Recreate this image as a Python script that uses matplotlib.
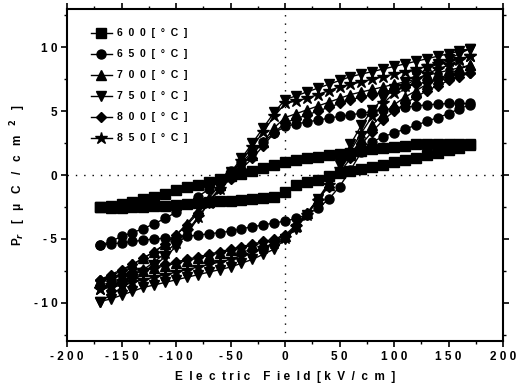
import numpy as np
import matplotlib
matplotlib.use("Agg")
import matplotlib.pyplot as plt
from matplotlib.ticker import MultipleLocator, FuncFormatter

# Electric field grids (kV/cm)
E_up = [170, 160, 150, 140, 130, 120, 110, 100, 90, 80, 70, 60, 50, 40, 30, 20, 10, 0,
        -10, -20, -30, -40, -50, -60, -70, -80, -90, -100, -110, -120, -130, -140, -150, -160, -170]
E_down = E_up[::-1]

labels = ["6  0  0  [  °  C  ]", "6  5  0  [  °  C  ]", "7  0  0  [  °  C  ]",
          "7  5  0  [  °  C  ]", "8  0  0  [  °  C  ]", "8  5  0  [  °  C  ]"]
markers = ["s", "o", "^", "v", "D", "*"]

# upper branches (E from +170 to -170)
P600_up = [2.4, 2.45, 2.45, 2.45, 2.45, 2.4, 2.3, 2.2, 2.1, 2.0, 1.9, 1.75, 1.65, 1.55, 1.45, 1.35, 1.2, 1.0,
           0.75, 0.55, 0.3, 0.1, -0.1, -0.3, -0.55, -0.75, -0.95, -1.2, -1.45, -1.7, -1.9, -2.1, -2.25, -2.4, -2.5]
P650_up = [5.6, 5.6, 5.6, 5.55, 5.5, 5.4, 5.3, 5.2, 5.1, 4.95, 4.85, 4.7, 4.6, 4.45, 4.3, 4.15, 4.0, 3.8,
           3.3, 2.6, 1.8, 1.0, 0.3, -0.4, -1.1, -1.7, -2.3, -2.9, -3.4, -3.8, -4.2, -4.5, -4.8, -5.2, -5.5]
P700_up = [8.6, 8.4, 8.2, 8.0, 7.8, 7.5, 7.3, 7.1, 6.9, 6.7, 6.5, 6.3, 6.0, 5.7, 5.4, 5.1, 4.8, 4.5,
           3.7, 2.6, 1.6, 0.8, 0.0, -0.8, -1.8, -2.8, -3.8, -4.7, -5.4, -6.0, -6.5, -7.0, -7.5, -7.9, -8.3]
P750_up = [9.9, 9.7, 9.5, 9.3, 9.1, 8.9, 8.7, 8.5, 8.3, 8.1, 7.9, 7.7, 7.4, 7.1, 6.8, 6.5, 6.2, 5.9,
           4.9, 3.7, 2.5, 1.3, 0.2, -1.0, -2.2, -3.4, -4.6, -5.6, -6.4, -7.1, -7.7, -8.3, -8.8, -9.4, -9.9]
P800_up = [8.0, 7.9, 7.7, 7.5, 7.3, 7.1, 6.9, 6.7, 6.5, 6.3, 6.1, 5.9, 5.6, 5.3, 5.0, 4.7, 4.4, 4.1,
           3.3, 2.3, 1.3, 0.5, -0.3, -1.1, -2.0, -3.0, -3.9, -4.7, -5.4, -6.0, -6.5, -7.0, -7.4, -7.8, -8.2]
P850_up = [9.3, 9.1, 8.9, 8.7, 8.5, 8.3, 8.1, 7.9, 7.7, 7.5, 7.3, 7.1, 6.9, 6.6, 6.3, 6.0, 5.8, 5.6,
           4.6, 3.4, 2.2, 1.1, 0.0, -1.1, -2.2, -3.3, -4.4, -5.3, -6.1, -6.8, -7.4, -7.9, -8.3, -8.6, -8.9]

# lower branches (E from -170 to +170)
P600_dn = [-2.5, -2.55, -2.55, -2.5, -2.5, -2.45, -2.4, -2.35, -2.3, -2.2, -2.1, -2.05, -2.0, -1.95, -1.9, -1.8, -1.7, -1.3,
           -0.8, -0.55, -0.35, -0.1, 0.15, 0.35, 0.5, 0.65, 0.8, 1.0, 1.15, 1.35, 1.55, 1.75, 1.95, 2.15, 2.35]
P650_dn = [-5.5, -5.4, -5.3, -5.2, -5.1, -5.0, -4.95, -4.9, -4.8, -4.7, -4.6, -4.5, -4.4, -4.2, -4.05, -3.9, -3.75, -3.6,
           -3.4, -3.1, -2.6, -1.9, -0.9, 0.4, 1.8, 2.6, 3.0, 3.3, 3.6, 3.9, 4.2, 4.5, 4.8, 5.2, 5.5]
P700_dn = [-8.3, -8.1, -7.9, -7.7, -7.5, -7.3, -7.1, -6.9, -6.7, -6.5, -6.3, -6.1, -5.9, -5.7, -5.5, -5.3, -5.1, -4.8,
           -4.0, -3.0, -1.9, -0.8, 0.4, 1.6, 2.8, 3.9, 4.8, 5.5, 6.1, 6.6, 7.1, 7.5, 7.9, 8.3, 8.6]
P750_dn = [-9.9, -9.7, -9.4, -9.1, -8.8, -8.6, -8.4, -8.2, -8.0, -7.8, -7.6, -7.4, -7.2, -6.9, -6.6, -6.2, -5.8, -5.0,
           -4.2, -3.1, -1.9, -0.6, 0.8, 2.4, 3.9, 5.1, 6.0, 6.7, 7.3, 7.8, 8.3, 8.7, 9.1, 9.5, 9.9]
P800_dn = [-8.2, -8.0, -7.8, -7.6, -7.4, -7.2, -7.0, -6.8, -6.6, -6.4, -6.2, -6.0, -5.8, -5.6, -5.4, -5.2, -5.0, -4.7,
           -3.9, -3.0, -1.9, -0.9, 0.2, 1.3, 2.4, 3.4, 4.3, 5.0, 5.6, 6.1, 6.6, 7.0, 7.4, 7.7, 8.0]
P850_dn = [-8.9, -8.8, -8.6, -8.4, -8.2, -8.0, -7.8, -7.6, -7.4, -7.2, -7.0, -6.8, -6.6, -6.3, -6.0, -5.7, -5.3, -4.9,
           -4.1, -3.1, -2.0, -0.8, 0.5, 1.9, 3.3, 4.6, 5.6, 6.4, 7.0, 7.5, 7.9, 8.3, 8.6, 9.0, 9.3]

ups = [P600_up, P650_up, P700_up, P750_up, P800_up, P850_up]
dns = [P600_dn, P650_dn, P700_dn, P750_dn, P800_dn, P850_dn]

plt.rcParams['font.family'] = ['Liberation Sans', 'DejaVu Sans']
plt.rcParams['font.weight'] = 'bold'

fig = plt.figure(figsize=(5.16, 3.89), dpi=100)
ax = fig.add_axes([0.130, 0.123, 0.845, 0.854])

for lab, m, pu, pd in zip(labels, markers, ups, dns):
    E = list(E_up) + list(E_down)
    P = list(pu) + list(pd)
    ms = 6.5
    if m == "*":
        ms = 9
    if m == "D":
        ms = 5.5
    ax.plot(E, P, color='black', lw=1.0, marker=m, ms=ms, mfc='black', mec='black', label=lab)

ax.axhline(0, color='black', lw=1.0, ls=(0, (1, 5)))
ax.axvline(0, color='black', lw=1.0, ls=(0, (1, 5)))

ax.set_xlim(-200, 200)
ax.set_ylim(-13, 13)
ax.xaxis.set_major_locator(MultipleLocator(50))
ax.xaxis.set_minor_locator(MultipleLocator(25))
ax.yaxis.set_major_locator(MultipleLocator(5))
ax.yaxis.set_minor_locator(MultipleLocator(2.5))

def spaced(v, pos):
    s = "%d" % v
    return " ".join(s)

ax.xaxis.set_major_formatter(FuncFormatter(spaced))
ax.yaxis.set_major_formatter(FuncFormatter(spaced))
ax.tick_params(axis='both', which='major', direction='out', length=4, width=1.2, labelsize=8.5, pad=3)
ax.tick_params(axis='both', which='minor', direction='out', length=2, width=1.0)
ax.tick_params(top=True, right=True, which='both')
for sp in ax.spines.values():
    sp.set_linewidth(1.5)

ax.set_xlabel("E  l e  c  t r i c    F  i e  l d  [ k  V  /  c  m  ]", fontsize=8.5, fontweight='bold', labelpad=6)
ax.set_ylabel("P$_r$   [   μ   C   /   c   m   $^2$   ]", fontsize=8.5, fontweight='bold', labelpad=4)

leg = ax.legend(loc='upper left', bbox_to_anchor=(0.04, 0.96), frameon=False, fontsize=7.5,
                handlelength=2.0, labelspacing=1.05, handletextpad=0.5, borderaxespad=0.2)

fig.savefig("out.png", dpi=100)
